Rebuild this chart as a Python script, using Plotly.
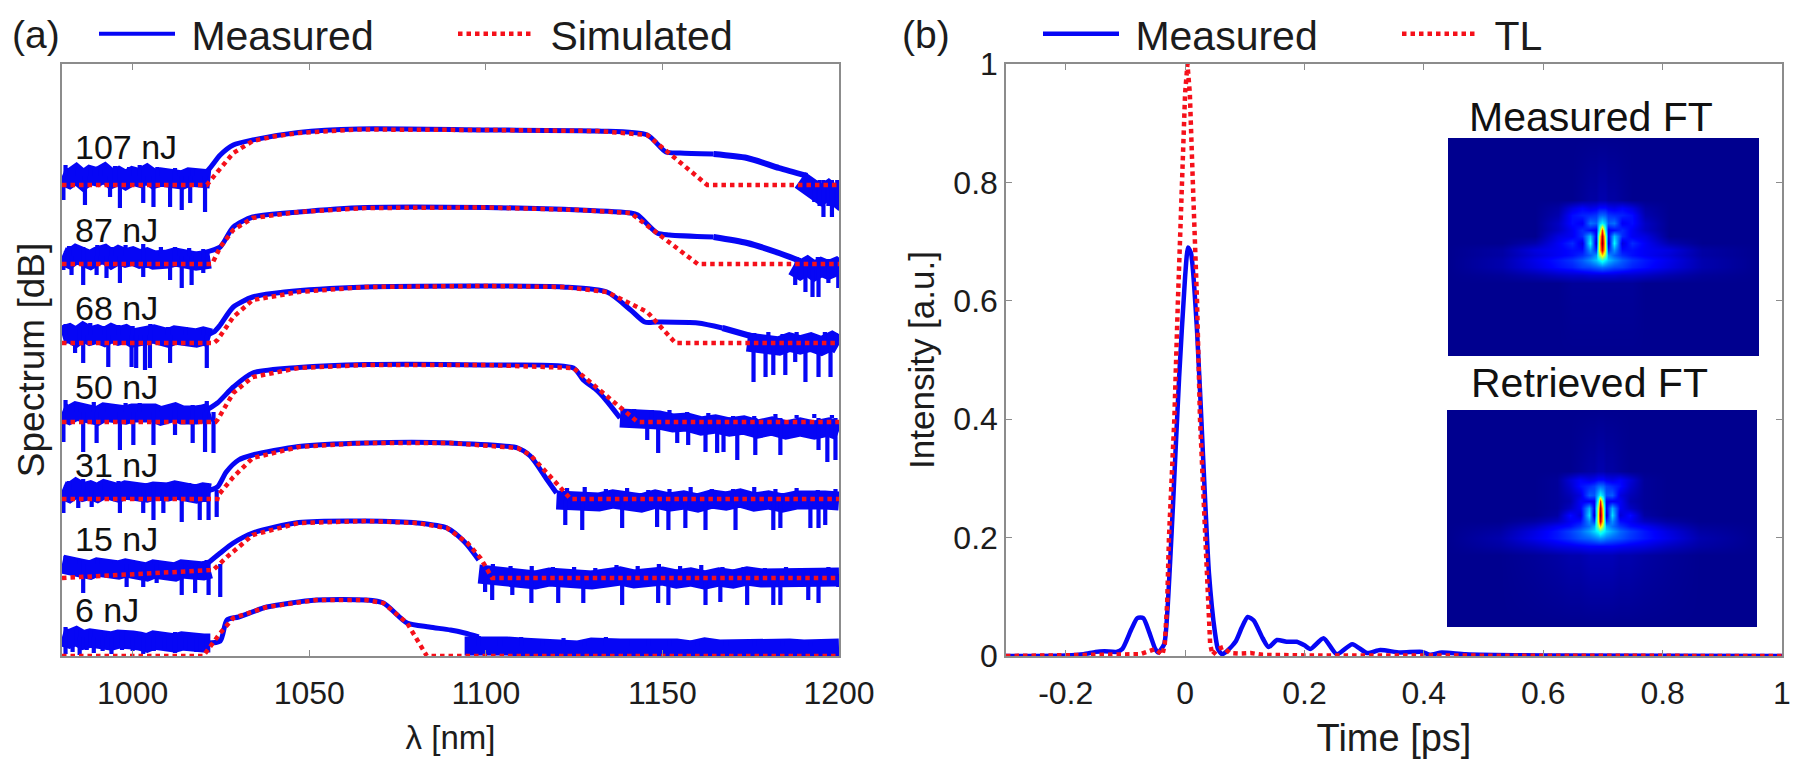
import plotly.graph_objects as go

# ---------- panel (a): spectra, y is stacked dB offset ----------
LEFT_X = [980, 982, 984, 986, 988, 990, 992, 994, 996, 998, 1000, 1002, 1004, 1006, 1008, 1010, 1012, 1014, 1016, 1018, 1020, 1022]

S107_X = [980, 1021, 1024, 1028.5, 1034, 1040, 1047, 1064, 1100, 1131.6, 1145.7, 1162.7, 1200]
S107_Y = [47.1, 47.1, 48.4, 50.3, 51.5, 51.95, 52.3, 52.65, 52.6, 52.5, 52.1, 47.1, 47.1]
M107_X = [1019, 1021.4, 1024.8, 1028.5, 1034, 1047, 1064, 1100, 1131.6, 1145.7, 1151, 1155, 1164.5]
M107_Y = [48.0, 48.6, 50.1, 51.1, 51.6, 52.35, 52.7, 52.6, 52.5, 52.1, 50.4, 50.3, 50.2]
T107_X = [1164.5, 1174, 1183, 1191]
T107_Y = [50.2, 49.8, 48.8, 48.0]
L107_Y = [48.0, 47.7, 48.2, 47.6, 48.1, 47.9, 48.3, 47.7, 48.0, 47.6, 48.0, 47.8, 48.2, 47.7, 47.9, 47.7, 47.9, 47.6, 47.9, 47.7, 47.8, 47.7]
R107_X = [1189, 1191, 1193, 1195, 1197, 1199, 1200]
R107_Y = [47.6, 47.1, 46.8, 46.1, 46.6, 46.0, 46.7]
P107_X = [980.4, 986.5, 993.6, 996.4, 1003, 1005.9, 1010.6, 1013.9, 1016.3, 1020.5, 1193, 1194.5, 1195.6, 1197, 1198, 1199.5]
P107_Y = [45.6, 45.1, 45.9, 44.8, 45.3, 44.9, 44.9, 44.6, 45.3, 44.4, 45.4, 45.0, 43.9, 45.0, 43.9, 44.8]
U107_X = [981, 984.5, 988, 991, 995, 999, 1002, 1007, 1012, 1017]
U107_Y = [49.1, 48.9, 49.0, 48.8, 49.0, 48.9, 49.1, 48.9, 48.8, 48.7]

S87_X = [980, 1022.5, 1024.8, 1028.5, 1034, 1047, 1066, 1100, 1126.7, 1141, 1160, 1200]
S87_Y = [39.2, 39.2, 40.9, 42.6, 43.8, 44.4, 44.8, 44.85, 44.6, 44.3, 39.2, 39.2]
M87_X = [1019, 1021, 1024.8, 1028.5, 1034, 1047, 1066, 1100, 1126.7, 1141, 1143, 1148.5, 1152, 1164.5]
M87_Y = [40.0, 40.4, 40.9, 42.9, 43.9, 44.4, 44.85, 44.85, 44.6, 44.3, 44.1, 42.3, 42.1, 41.9]
T87_X = [1164.5, 1174, 1183, 1189]
T87_Y = [41.9, 41.3, 40.3, 39.5]
L87_Y = [40.0, 39.7, 40.2, 39.9, 39.6, 40.0, 40.2, 39.7, 40.1, 39.8, 40.0, 39.7, 39.9, 39.6, 39.9, 39.7, 39.9, 39.6, 39.8, 39.5, 39.6, 39.7]
R87_X = [1187, 1189, 1191, 1193, 1195, 1197, 1199, 1200]
R87_Y = [39.0, 38.6, 39.0, 38.5, 38.9, 38.6, 38.9, 38.6]
P87_X = [980.4, 982.7, 986, 989.8, 992.6, 996.4, 1003, 1010.6, 1013.9, 1016.7, 1020, 1187.6, 1190.5, 1192.5, 1194.2, 1197, 1199.8]
P87_Y = [38.6, 38.1, 37.1, 38.1, 37.8, 37.3, 37.9, 37.6, 36.8, 37.1, 38.3, 37.1, 36.4, 35.9, 35.9, 37.3, 36.8]
U87_X = [982, 986, 990, 994, 998, 1003, 1008, 1012, 1016, 1020, 1188, 1191, 1194, 1197, 1200]
U87_Y = [41.0, 40.9, 41.1, 40.9, 41.1, 41.2, 40.9, 40.9, 40.8, 40.7, 39.9, 39.8, 39.9, 39.7, 39.8]

S68_X = [980, 1023, 1024, 1028.5, 1034, 1047, 1066, 1100, 1121.9, 1134.3, 1145.7, 1153.7, 1200]
S68_Y = [31.3, 31.3, 31.6, 33.9, 35.6, 36.4, 36.9, 37, 36.9, 36.4, 34.4, 31.3, 31.3]
M68_X = [1020, 1023, 1024.8, 1028.5, 1034, 1043, 1066, 1100, 1121.9, 1134.3, 1141, 1145, 1148.5, 1160, 1167]
M68_Y = [32.0, 32.4, 33.1, 34.9, 35.9, 36.4, 36.9, 37, 36.9, 36.4, 34.6, 33.4, 33.4, 33.3, 32.8]
T68_X = [1167, 1171, 1175]
T68_Y = [32.8, 32.4, 32.0]
L68_Y = [32.1, 32.3, 31.9, 32.4, 32.0, 32.2, 31.9, 32.3, 32.0, 32.2, 31.8, 32.1, 31.9, 32.2, 32.0, 31.8, 32.1, 31.9, 32.1, 31.8, 32.0, 31.8]
R68_X = [1174, 1177, 1180, 1183, 1186, 1189, 1192, 1195, 1198, 1200]
R68_Y = [31.4, 31.2, 31.4, 31.0, 31.4, 31.1, 31.4, 31.0, 31.5, 31.1]
P68_X = [983.7, 986, 993.1, 999.7, 1001, 1003.5, 1004.9, 1010.6, 1021, 1175.8, 1179.2, 1181.4, 1184.8, 1187.6, 1190.5, 1194.2, 1197.6]
P68_Y = [30.3, 29.3, 28.9, 28.9, 28.8, 28.6, 28.8, 29.3, 28.8, 27.4, 27.9, 28.1, 28.1, 29.4, 27.4, 27.9, 27.9]
U68_X = [981, 985, 988, 992, 996, 1000, 1005, 1010, 1015, 1020, 1176, 1180, 1184, 1188, 1192, 1196, 1199]
U68_Y = [33.2, 33.0, 33.3, 33.0, 33.1, 33.0, 33.2, 32.9, 32.9, 32.8, 32.3, 32.4, 32.2, 32.4, 32.2, 32.4, 32.3]

S50_X = [980, 1023.5, 1024, 1026.7, 1028.5, 1034, 1047, 1066, 1100, 1124.8, 1133.3, 1138, 1143, 1200]
S50_Y = [23.4, 23.4, 23.6, 25.3, 26.3, 27.9, 28.8, 29.1, 29.1, 28.8, 26.3, 24.8, 23.4, 23.4]
M50_X = [1020, 1024, 1028.5, 1034, 1047, 1066, 1100, 1124.8, 1127.6, 1131, 1134, 1138]
M50_Y = [24.4, 25.3, 26.9, 28.3, 28.85, 29.15, 29.1, 28.8, 27.6, 26.7, 25.6, 23.8]
L50_Y = [24.4, 24.1, 24.5, 24.2, 24.3, 24.0, 24.4, 24.2, 24.4, 24.1, 24.3, 24.4, 24.1, 24.3, 24.0, 24.2, 24.4, 24.1, 24.3, 24.1, 24.2, 24.4]
R50_X = [1138, 1141, 1145, 1149, 1153, 1157, 1161, 1165, 1169, 1173, 1177, 1181, 1185, 1189, 1193, 1197, 1200]
R50_Y = [23.8, 23.8, 23.5, 23.6, 23.3, 23.4, 23.0, 23.2, 22.9, 23.1, 22.7, 23.0, 22.6, 22.9, 22.6, 22.9, 22.5]
P50_X = [980.4, 986, 989.8, 996.4, 1000.2, 1005.9, 1012, 1017, 1020.5, 1022.9, 1145.7, 1148.8, 1154.2, 1157.3, 1162.2, 1165.5, 1167.3, 1171.2, 1176.3, 1183.4, 1194.2, 1196.7, 1199]
P50_Y = [21.4, 20.4, 21.3, 20.6, 21.1, 21.1, 22.1, 21.3, 20.4, 20.3, 21.6, 20.3, 21.3, 21.1, 20.4, 20.3, 20.4, 19.6, 20.1, 20.1, 20.6, 19.4, 19.6]
U50_X = [981, 984, 989, 993, 998, 1002, 1007, 1012, 1017, 1021, 1142, 1147, 1152, 1157, 1163, 1170, 1176, 1182, 1188, 1193, 1198]
U50_Y = [25.6, 25.2, 25.4, 25.2, 25.3, 25.3, 25.1, 25.2, 25.1, 25.5, 24.7, 24.6, 24.6, 24.4, 24.3, 24.0, 24.0, 24.2, 24.1, 24.2, 24.1]

S31_X = [980, 1024, 1024.3, 1028.5, 1034, 1047, 1066, 1090, 1109, 1112.6, 1121, 1124, 1200]
S31_Y = [15.7, 15.7, 16.1, 17.9, 19.8, 20.9, 21.3, 21.3, 20.8, 20.1, 16.9, 15.7, 15.7]
M31_X = [1020, 1024, 1026.5, 1030, 1034, 1047, 1066, 1090, 1109, 1112.6, 1117, 1120]
M31_Y = [16.4, 16.9, 18.4, 19.6, 20.1, 20.95, 21.3, 21.3, 20.8, 20.0, 17.8, 16.3]
L31_Y = [16.6, 16.3, 16.8, 16.4, 16.6, 16.3, 16.7, 16.5, 16.3, 16.6, 16.4, 16.6, 16.3, 16.5, 16.2, 16.4, 16.6, 16.3, 16.4, 16.2, 16.4, 16.3]
R31_X = [1120, 1124, 1128, 1132, 1136, 1140, 1144, 1148, 1152, 1156, 1160, 1164, 1168, 1172, 1176, 1180, 1184, 1188, 1192, 1196, 1200]
R31_Y = [15.6, 15.5, 15.8, 15.4, 15.7, 15.5, 15.3, 15.7, 15.4, 15.6, 15.3, 15.7, 15.5, 15.8, 15.4, 15.6, 15.3, 15.6, 15.4, 15.6, 15.5]
P31_X = [980.4, 984.6, 988.4, 996.4, 1003, 1005.9, 1008.7, 1013.9, 1019, 1021.5, 1023.8, 1122.5, 1127.3, 1138.6, 1148.5, 1151.7, 1156.5, 1162.2, 1170.7, 1181.4, 1183.4, 1191.9, 1194.2, 1196.1]
P31_Y = [14.3, 14.8, 14.9, 14.3, 14.3, 13.6, 14.3, 13.4, 13.6, 13.6, 13.9, 13.1, 12.6, 12.8, 12.9, 12.6, 12.8, 12.6, 12.6, 12.6, 12.8, 12.8, 12.8, 13.1]
U31_X = [982, 986, 991, 996, 1001, 1006, 1011, 1016, 1021, 1123, 1128, 1134, 1140, 1146, 1152, 1158, 1164, 1170, 1176, 1182, 1188, 1194, 1199]
U31_Y = [17.5, 17.7, 17.5, 17.5, 17.3, 17.2, 17.2, 17.3, 17.3, 16.8, 16.9, 16.7, 16.8, 16.6, 16.7, 16.9, 16.7, 16.7, 16.9, 16.7, 16.8, 16.6, 16.7]

S15_X = [980, 1022.8, 1026.7, 1034, 1047, 1066, 1080.6, 1089, 1094.8, 1098.5, 1101.8, 1200]
S15_Y = [7.8, 8.6, 9.9, 12.1, 13.3, 13.5, 13.3, 12.8, 11.3, 9.8, 7.8, 7.8]
M15_X = [1020, 1024.8, 1028.5, 1034, 1047, 1066, 1080.6, 1089, 1094, 1098]
M15_Y = [8.9, 10.3, 11.3, 12.3, 13.35, 13.5, 13.3, 12.8, 11.4, 9.6]
L15_Y = [9.2, 9.0, 9.1, 8.8, 8.6, 8.9, 8.7, 8.9, 8.6, 8.8, 8.5, 8.7, 8.4, 8.7, 8.5, 8.6, 8.4, 8.7, 8.5, 8.7, 8.5, 8.7]
R15_X = [1098, 1102, 1106, 1110, 1114, 1118, 1122, 1126, 1130, 1134, 1138, 1142, 1146, 1150, 1154, 1158, 1162, 1166, 1170, 1174, 1178, 1182, 1186, 1190, 1194, 1198, 1200]
R15_Y = [8.2, 8.0, 7.8, 7.9, 7.6, 7.9, 7.7, 7.9, 7.6, 7.8, 8.0, 7.7, 7.9, 8.0, 7.7, 7.9, 7.6, 7.9, 7.7, 8.0, 7.8, 7.9, 7.7, 7.9, 7.8, 8.0, 7.9]
P15_X = [986, 998.3, 1003, 1006.8, 1013.9, 1017.7, 1021.5, 1024.8, 1099.8, 1101.8, 1107.5, 1112.9, 1120.5, 1127.6, 1138.6, 1148.8, 1151.7, 1162.2, 1166.4, 1174, 1181.4, 1183.4, 1191.3, 1194.2, 1199.8]
P15_Y = [6.3, 6.9, 6.9, 7.3, 6.1, 6.3, 6.1, 5.9, 6.4, 5.6, 6.1, 5.3, 5.3, 5.3, 5.1, 5.3, 5.1, 5.1, 5.4, 5.1, 5.1, 5.1, 5.6, 5.3, 6.9]
U15_X = [981, 985, 990, 995, 1000, 1005, 1011, 1017, 1021, 1102, 1107, 1113, 1119, 1125, 1131, 1137, 1143, 1149, 1155, 1161, 1167, 1173, 1179, 1185, 1191, 1197]
U15_Y = [10.0, 9.7, 9.8, 9.6, 9.6, 9.5, 9.3, 9.4, 9.6, 9.2, 9.0, 9.0, 8.9, 8.9, 8.8, 9.1, 9.0, 9.2, 9.0, 9.1, 8.9, 8.9, 8.8, 8.9, 8.8, 8.9]

S6_X = [980, 1020, 1024.8, 1028.5, 1038, 1052, 1066, 1071, 1077.7, 1083.3, 1200]
S6_Y = [0, 0, 2.3, 3.8, 4.9, 5.6, 5.6, 5.3, 3.3, 0, 0]
M6_X = [1021, 1024.8, 1026.7, 1030, 1038, 1052, 1066, 1071, 1077.7, 1084, 1090, 1094, 1098]
M6_Y = [1.3, 1.5, 3.6, 3.9, 4.9, 5.6, 5.6, 5.3, 3.3, 2.9, 2.6, 2.3, 1.9]
L6_Y = [1.9, 1.7, 2.0, 1.6, 1.8, 1.6, 1.8, 1.5, 1.7, 1.4, 1.6, 1.5, 1.3, 1.6, 1.4, 1.6, 1.3, 1.5, 1.3, 1.5, 1.3, 1.3]
R6_X = [1094, 1098, 1102, 1106, 1110, 1114, 1118, 1122, 1126, 1130, 1134, 1138, 1142, 1146, 1150, 1154, 1158, 1162, 1166, 1170, 1174, 1178, 1182, 1186, 1190, 1194, 1200]
R6_Y = [1.0, 1.1, 0.9, 1.0, 0.9, 0.8, 1.0, 0.8, 0.6, 0.9, 0.7, 0.8, 0.8, 0.9, 0.7, 0.8, 0.6, 0.9, 0.7, 0.8, 0.6, 0.8, 0.7, 0.8, 0.7, 0.8, 0.8]
P6_X = [981, 983, 985, 987, 989, 991.5, 994, 997, 1000, 1003, 1006, 1009, 1012, 1015, 1018, 1021]
P6_Y = [0.2, 0.4, 0.1, 0.6, 0.3, 0.5, 0.2, 0.6, 0.5, 0.2, 0.5, 0.7, 0.3, 0.6, 0.4, 0.5]
U6_X = [981, 984, 988, 992, 997, 1002, 1007, 1012, 1017, 1098, 1104, 1110, 1116, 1122, 1128, 1134, 1140, 1146, 1152, 1160, 1168, 1176, 1184, 1192]
U6_Y = [2.9, 2.7, 2.6, 2.5, 2.5, 2.4, 2.3, 2.4, 2.3, 2.0, 1.8, 1.9, 1.7, 1.8, 1.6, 1.9, 1.6, 1.7, 1.6, 1.5, 1.6, 1.6, 1.5, 1.4]

ENERGY_LABELS = ["107 nJ", "87 nJ", "68 nJ", "50 nJ", "31 nJ", "15 nJ", "6 nJ"]
ENERGY_Y = [50.9, 42.6, 34.8, 26.9, 19.1, 11.7, 4.6]

# ---------- panel (b): pulse ----------
T_MEAS = [-0.3, -0.2, -0.17, -0.15, -0.135, -0.115, -0.105, -0.09, -0.08, -0.07, -0.06, -0.05, -0.045, -0.035, -0.03, -0.025, -0.02, -0.01, 0, 0.005, 0.01, 0.02, 0.03, 0.04, 0.05, 0.055, 0.062, 0.07, 0.085, 0.095, 0.105, 0.115, 0.13, 0.14, 0.154, 0.17, 0.187, 0.2, 0.21, 0.232, 0.254, 0.28, 0.305, 0.327, 0.36, 0.397, 0.41, 0.43, 0.47, 0.6, 1]
I_MEAS = [0, 0.001, 0.003, 0.007, 0.008, 0.007, 0.012, 0.045, 0.064, 0.064, 0.04, 0.012, 0.006, 0.02, 0.07, 0.16, 0.26, 0.47, 0.64, 0.69, 0.68, 0.55, 0.34, 0.14, 0.04, 0.012, 0.003, 0.008, 0.025, 0.048, 0.066, 0.06, 0.03, 0.015, 0.027, 0.024, 0.024, 0.018, 0.012, 0.03, 0.003, 0.02, 0.005, 0.01, 0.006, 0.007, 0.002, 0.006, 0.003, 0.001, 0]
T_TL = [-0.3, -0.1, -0.075, -0.05, -0.042, -0.038, -0.034, -0.03, -0.027, -0.018, -0.012, -0.006, 0, 0.004, 0.008, 0.013, 0.02, 0.025, 0.033, 0.038, 0.042, 0.046, 0.055, 0.064, 0.075, 0.09, 0.11, 0.13, 0.2, 1]
I_TL = [0, 0.002, 0.003, 0.012, 0.006, 0.002, 0.02, 0.09, 0.2, 0.4, 0.6, 0.8, 0.95, 1, 0.95, 0.8, 0.6, 0.4, 0.2, 0.09, 0.02, 0.002, 0.012, 0.015, 0.005, 0.004, 0.005, 0.002, 0.001, 0]

X_TICKS_A = [1000, 1050, 1100, 1150, 1200]
X_TICKS_B = [-0.2, 0, 0.2, 0.4, 0.6, 0.8, 1]
X_TEXT_B = ["-0.2", "0", "0.2", "0.4", "0.6", "0.8", "1"]
Y_TICKS_B = [0, 0.2, 0.4, 0.6, 0.8, 1]
Y_TEXT_B = ["0", "0.2", "0.4", "0.6", "0.8", "1"]

# ---------- insets ----------
FT_X = [-460, -300, -200, -130, -90, -60, -35, -18, -8, 0, 8, 18, 35, 60, 90, 130, 200, 300, 470]
FT_Y = [0, 185, 210, 230, 255, 275, 295, 315, 335, 350, 365, 385, 410, 435, 653]
FT_MEASURED = [
 [0]*19,
 [0, 0, 0, 0, 0, 0.01, 0.02, 0.02, 0.03, 0.03, 0.03, 0.02, 0.02, 0.01, 0, 0, 0, 0, 0],
 [0, 0, 0, 0.02, 0.08, 0.11, 0.09, 0.1, 0.12, 0.12, 0.12, 0.1, 0.09, 0.11, 0.08, 0.02, 0, 0, 0],
 [0, 0, 0, 0.03, 0.12, 0.14, 0.15, 0.16, 0.2, 0.21, 0.2, 0.16, 0.15, 0.14, 0.12, 0.03, 0, 0, 0],
 [0, 0, 0, 0.05, 0.12, 0.1, 0.22, 0.2, 0.3, 0.35, 0.3, 0.2, 0.22, 0.1, 0.12, 0.05, 0, 0, 0],
 [0, 0, 0, 0.05, 0.1, 0.15, 0.12, 0.1, 0.4, 0.8, 0.4, 0.1, 0.12, 0.15, 0.1, 0.05, 0, 0, 0],
 [0, 0, 0, 0.08, 0.1, 0.15, 0.3, 0.1, 0.55, 0.95, 0.55, 0.1, 0.3, 0.15, 0.1, 0.08, 0, 0, 0],
 [0, 0, 0.03, 0.1, 0.15, 0.08, 0.36, 0.06, 0.6, 1, 0.6, 0.06, 0.36, 0.08, 0.15, 0.1, 0.03, 0, 0],
 [0, 0.02, 0.08, 0.1, 0.12, 0.12, 0.25, 0.15, 0.6, 0.9, 0.6, 0.15, 0.25, 0.12, 0.12, 0.1, 0.08, 0.02, 0],
 [0, 0.02, 0.07, 0.1, 0.12, 0.15, 0.2, 0.25, 0.5, 0.65, 0.5, 0.25, 0.2, 0.15, 0.12, 0.1, 0.07, 0.02, 0],
 [0, 0.03, 0.09, 0.13, 0.16, 0.2, 0.25, 0.3, 0.35, 0.4, 0.35, 0.3, 0.25, 0.2, 0.16, 0.13, 0.09, 0.03, 0],
 [0, 0.03, 0.08, 0.12, 0.14, 0.17, 0.18, 0.2, 0.21, 0.22, 0.21, 0.2, 0.18, 0.17, 0.14, 0.12, 0.08, 0.03, 0],
 [0, 0.01, 0.03, 0.05, 0.06, 0.06, 0.07, 0.07, 0.07, 0.07, 0.07, 0.07, 0.07, 0.06, 0.06, 0.05, 0.03, 0.01, 0],
 [0, 0, 0, 0, 0.01, 0.01, 0.01, 0.01, 0.01, 0.01, 0.01, 0.01, 0.01, 0.01, 0.01, 0, 0, 0, 0],
 [0]*19,
]
FT_RETRIEVED = [
 [0]*19,
 [0, 0, 0, 0, 0, 0.01, 0.02, 0.02, 0.03, 0.03, 0.03, 0.02, 0.02, 0.01, 0, 0, 0, 0, 0],
 [0, 0, 0, 0.01, 0.07, 0.11, 0.09, 0.1, 0.12, 0.12, 0.12, 0.1, 0.09, 0.11, 0.07, 0.01, 0, 0, 0],
 [0, 0, 0, 0.01, 0.06, 0.12, 0.15, 0.17, 0.21, 0.22, 0.21, 0.17, 0.15, 0.12, 0.06, 0.01, 0, 0, 0],
 [0, 0, 0, 0.01, 0.04, 0.08, 0.2, 0.19, 0.3, 0.36, 0.3, 0.19, 0.2, 0.08, 0.04, 0.01, 0, 0, 0],
 [0, 0, 0, 0.01, 0.03, 0.1, 0.1, 0.1, 0.42, 0.82, 0.42, 0.1, 0.1, 0.1, 0.03, 0.01, 0, 0, 0],
 [0, 0, 0, 0.01, 0.05, 0.1, 0.28, 0.1, 0.56, 0.96, 0.56, 0.1, 0.28, 0.1, 0.05, 0.01, 0, 0, 0],
 [0, 0, 0, 0.02, 0.12, 0.07, 0.33, 0.06, 0.6, 1, 0.6, 0.06, 0.33, 0.07, 0.12, 0.02, 0, 0, 0],
 [0, 0, 0.02, 0.05, 0.1, 0.12, 0.25, 0.16, 0.6, 0.92, 0.6, 0.16, 0.25, 0.12, 0.1, 0.05, 0.02, 0, 0],
 [0, 0.01, 0.05, 0.1, 0.12, 0.16, 0.22, 0.27, 0.5, 0.68, 0.5, 0.27, 0.22, 0.16, 0.12, 0.1, 0.05, 0.01, 0],
 [0, 0.02, 0.08, 0.13, 0.17, 0.21, 0.27, 0.32, 0.37, 0.42, 0.37, 0.32, 0.27, 0.21, 0.17, 0.13, 0.08, 0.02, 0],
 [0, 0.03, 0.09, 0.13, 0.16, 0.19, 0.21, 0.23, 0.25, 0.26, 0.25, 0.23, 0.21, 0.19, 0.16, 0.13, 0.09, 0.03, 0],
 [0, 0.02, 0.05, 0.08, 0.09, 0.1, 0.11, 0.11, 0.11, 0.11, 0.11, 0.11, 0.11, 0.1, 0.09, 0.08, 0.05, 0.02, 0],
 [0, 0, 0.01, 0.02, 0.03, 0.03, 0.04, 0.04, 0.04, 0.04, 0.04, 0.04, 0.04, 0.03, 0.03, 0.02, 0.01, 0, 0],
 [0]*19,
]

# ---------- styling ----------
W, H = 1800, 772
BLUE = "#0606f5"
RED = "#f5101a"
TXT = "#1c1c1c"
AXC = "#8c8c8c"
FONT = "Liberation Sans"
DOT = "4.5px,4px"
JET = [[0, "rgb(0,0,143)"], [0.11, "rgb(0,0,255)"], [0.36, "rgb(0,255,255)"], [0.61, "rgb(255,255,0)"],
       [0.86, "rgb(255,0,0)"], [1, "rgb(128,0,0)"]]


def dx(a, b):
    return [a / W, b / W]


def dy(top, bottom):
    return [1 - bottom / H, 1 - top / H]


fig = go.Figure()


def blue(x, y, width, ax="x", ay="y", spline=False):
    line = dict(color=BLUE, width=width)
    if spline:
        line.update(shape="spline", smoothing=0.7)
    fig.add_trace(go.Scatter(x=x, y=y, mode="lines", line=line,
                             xaxis=ax, yaxis=ay, showlegend=False, cliponaxis=False, hoverinfo="skip"))


BANDS = [
    (S107_X, S107_Y, M107_X, M107_Y, T107_X, T107_Y, L107_Y, R107_X, R107_Y, P107_X, P107_Y, U107_X, U107_Y),
    (S87_X, S87_Y, M87_X, M87_Y, T87_X, T87_Y, L87_Y, R87_X, R87_Y, P87_X, P87_Y, U87_X, U87_Y),
    (S68_X, S68_Y, M68_X, M68_Y, T68_X, T68_Y, L68_Y, R68_X, R68_Y, P68_X, P68_Y, U68_X, U68_Y),
    (S50_X, S50_Y, M50_X, M50_Y, [], [], L50_Y, R50_X, R50_Y, P50_X, P50_Y, U50_X, U50_Y),
    (S31_X, S31_Y, M31_X, M31_Y, [], [], L31_Y, R31_X, R31_Y, P31_X, P31_Y, U31_X, U31_Y),
    (S15_X, S15_Y, M15_X, M15_Y, [], [], L15_Y, R15_X, R15_Y, P15_X, P15_Y, U15_X, U15_Y),
    (S6_X, S6_Y, M6_X, M6_Y, [], [], L6_Y, R6_X, R6_Y, P6_X, P6_Y, U6_X, U6_Y),
]


def verticals(xs, ys, ly, ry):
    out_x, out_y = [], []
    for a, b in zip(xs, ys):
        base = ly[0] if a < 1050 else ry[0]
        out_x += [a, a, None]
        out_y += [base, b, None]
    return out_x, out_y


for sx, sy, mx, my, tx, ty, ly, rx, ry, px, py, ux, uy in BANDS:
    blue(mx, my, 5, spline=True)
    if tx:
        blue(tx, ty, 6, spline=True)
    blue(LEFT_X, ly, 19)
    blue(rx, ry, 19)
    blue(*verticals(px, py, ly, ry), 4.2)
    blue(*verticals(ux, uy, ly, ry), 4.2)

for band in BANDS:
    fig.add_trace(go.Scatter(x=band[0], y=band[1], mode="lines",
                             line=dict(color=RED, width=4.5, dash=DOT),
                             showlegend=False, cliponaxis=False, hoverinfo="skip"))

# legend entries for panel (a)
fig.add_trace(go.Scatter(x=[None], y=[None], mode="lines", name="\u00a0Measured",
                         line=dict(color=BLUE, width=4), legend="legend"))
fig.add_trace(go.Scatter(x=[None], y=[None], mode="lines", name="\u00a0Simulated",
                         line=dict(color=RED, width=4.5, dash=DOT), legend="legend"))

# panel (b)
fig.add_trace(go.Scatter(x=T_MEAS, y=I_MEAS, mode="lines", name="\u00a0Measured",
                         line=dict(color=BLUE, width=4.5, shape="spline", smoothing=0.6),
                         xaxis="x2", yaxis="y2", legend="legend2", cliponaxis=False, hoverinfo="skip"))
fig.add_trace(go.Scatter(x=T_TL, y=I_TL, mode="lines", name="\u00a0TL",
                         line=dict(color=RED, width=4.5, dash=DOT),
                         xaxis="x2", yaxis="y2", legend="legend2", cliponaxis=False, hoverinfo="skip"))

for z, ax, ay in [(FT_MEASURED, "x3", "y3"), (FT_RETRIEVED, "x4", "y4")]:
    fig.add_trace(go.Heatmap(x=FT_X, y=FT_Y, z=z, zmin=0, zmax=1, colorscale=JET, zsmooth="best",
                             showscale=False, xaxis=ax, yaxis=ay, hoverinfo="skip"))

common_axis = dict(showline=True, linecolor=AXC, linewidth=1.5, mirror="ticks", showgrid=False, zeroline=False,
                   ticks="inside", ticklen=6, tickcolor=AXC, tickwidth=1)
tick_font = dict(family=FONT, size=32, color=TXT)

hidden = dict(visible=False, showgrid=False, zeroline=False)

legend_common = dict(orientation="h", xref="container", yref="container", xanchor="left", yanchor="middle",
                     itemwidth=76, entrywidthmode="pixels", entrywidth=268,
                     font=dict(family=FONT, size=41, color=TXT), bgcolor="rgba(0,0,0,0)",
                     itemclick=False, itemdoubleclick=False)

fig.update_layout(
    width=W, height=H, autosize=False, margin=dict(l=0, r=0, t=0, b=0, autoexpand=False),
    paper_bgcolor="white", plot_bgcolor="white", font=dict(family=FONT, color=TXT),
    xaxis=dict(domain=dx(62, 839), range=[980, 1200], tickvals=X_TICKS_A, tickfont=tick_font, ticklabelstandoff=8,
               title=dict(text="λ [nm]", font=dict(family=FONT, size=33, color=TXT), standoff=16), **common_axis),
    yaxis=dict(domain=dy(64, 656), range=[0, 59.2], showticklabels=False, tickvals=[],
               title=dict(text="Spectrum [dB]", font=dict(family=FONT, size=37, color=TXT), standoff=4),
               **common_axis),
    xaxis2=dict(domain=dx(1006, 1782), range=[-0.3, 1], tickvals=X_TICKS_B, ticktext=X_TEXT_B, anchor="y2",
                tickfont=tick_font, ticklabelstandoff=8,
                title=dict(text="Time [ps]", font=dict(family=FONT, size=38, color=TXT), standoff=14), **common_axis),
    yaxis2=dict(domain=dy(64, 656), range=[0, 1], tickvals=Y_TICKS_B, ticktext=Y_TEXT_B, anchor="x2",
                tickfont=tick_font,
                title=dict(text="Intensity [a.u.]", font=dict(family=FONT, size=35, color=TXT), standoff=8),
                **common_axis),
    xaxis3=dict(domain=dx(1448, 1759), range=[-460, 470], anchor="y3", **hidden),
    yaxis3=dict(domain=dy(138, 356), range=[653, 0], anchor="x3", **hidden),
    xaxis4=dict(domain=dx(1447, 1757), range=[-460, 470], anchor="y4", **hidden),
    yaxis4=dict(domain=dy(410, 627), range=[653, 0], anchor="x4", **hidden),
    legend=dict(x=94 / W, y=1 - 34 / H, **legend_common),
    legend2=dict(x=1038 / W, y=1 - 34 / H, **legend_common),
)

annotations = [
    dict(text="(a)", x=10 / W, y=1 - 34 / H, xref="paper", yref="paper", xanchor="left", yanchor="middle",
         showarrow=False, font=dict(family=FONT, size=39, color=TXT)),
    dict(text="(b)", x=900 / W, y=1 - 34 / H, xref="paper", yref="paper", xanchor="left", yanchor="middle",
         showarrow=False, font=dict(family=FONT, size=39, color=TXT)),
    dict(text="Measured FT", x=1591 / W, y=1 - 117 / H, xref="paper", yref="paper", xanchor="center",
         yanchor="middle", showarrow=False, font=dict(family=FONT, size=41, color="#111111")),
    dict(text="Retrieved FT", x=1589 / W, y=1 - 383 / H, xref="paper", yref="paper", xanchor="center",
         yanchor="middle", showarrow=False, font=dict(family=FONT, size=41, color="#111111")),
]
for label, yv in zip(ENERGY_LABELS, ENERGY_Y):
    annotations.append(dict(text=label, x=983, y=yv, xref="x", yref="y", xanchor="left", yanchor="middle",
                            showarrow=False, font=dict(family=FONT, size=34, color="#111111")))
fig.update_layout(annotations=annotations)

fig.write_html("out.html", config=dict(displayModeBar=False),
               post_script="document.body.style.margin='0';document.body.style.overflow='hidden';")
